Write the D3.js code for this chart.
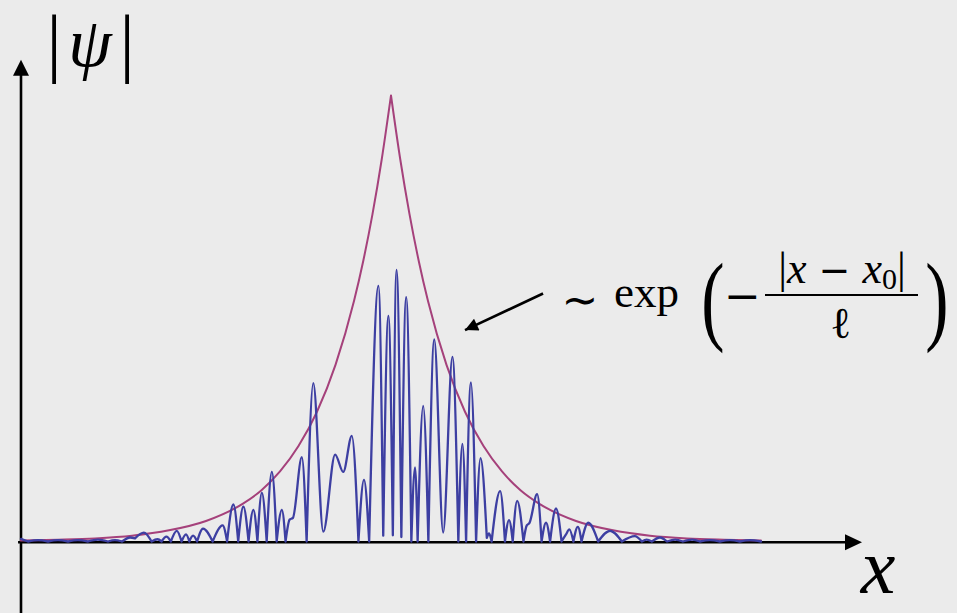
<!DOCTYPE html>
<html>
<head>
<meta charset="utf-8">
<script src="https://cdn.jsdelivr.net/npm/d3@7"></script>
<style>
  html, body { margin: 0; padding: 0; background: #ebebeb; }
  svg { display: block; }
</style>
</head>
<body>
<svg id="chart"></svg>
<script>
let psiX = [-10.00, -9.81, -9.54, -9.27, -9.00, -8.73, -8.46, -8.19, -7.92, -7.65,
  -7.46, -7.27, -7.05, -6.92, -6.68, -6.47, -6.31, -6.20, -6.07, -5.95,
  -5.79, -5.66, -5.54, -5.45, -5.35, -5.24, -5.08, -4.82, -4.55, -4.43,
  -4.26, -4.13, -3.99, -3.85, -3.72, -3.61, -3.49, -3.36, -3.22, -3.09,
  -2.95, -2.85, -2.74, -2.65, -2.41, -2.28, -2.10, -1.83, -1.51, -1.29,
  -1.06, -0.88, -0.73, -0.59, -0.34, -0.21, -0.07, 0.05, 0.15, 0.28,
  0.41, 0.55, 0.65, 0.72, 0.87, 1.01, 1.17, 1.41, 1.66, 1.82,
  1.93, 2.03, 2.16, 2.30, 2.42, 2.59, 2.65, 2.72, 2.95, 3.08,
  3.19, 3.29, 3.41, 3.58, 3.67, 3.74, 3.95, 4.07, 4.19, 4.30,
  4.46, 4.61, 4.73, 4.82, 4.93, 5.05, 5.15, 5.33, 5.60, 5.92,
  6.24, 6.59, 6.78, 6.91, 7.05, 7.27, 7.46, 7.68, 7.89, 8.14,
  8.35, 8.62, 8.89, 9.16, 9.43, 9.70, 10.00]
let psiY = [0.006, 0, 0.003, 0, 0.003, 0, 0.003, 0, 0.004, 0,
  0.003, 0, 0.009, 0.007, 0.020, 0, 0.005, 0, 0.011, 0,
  0.024, 0, 0.016, 0, 0.013, 0, 0.029, 0, 0.036, 0,
  0.083, 0, 0.078, 0, 0.071, 0, 0.109, 0, 0.156, 0,
  0.071, 0, 0.049, 0.053, 0.189, 0, 0.355, 0.022, 0.195, 0.156,
  0.237, 0, 0.138, 0, 0.573, 0.013, 0.506, 0.014, 0.609, 0.010,
  0.548, 0, 0.166, 0, 0.304, 0, 0.453, 0.020, 0.414, 0,
  0.219, 0, 0.357, 0, 0.187, 0.008, 0.018, 0, 0.113, 0,
  0.048, 0, 0.091, 0, 0.036, 0.041, 0.106, 0, 0.042, 0,
  0.074, 0, 0.016, 0.027, 0, 0.033, 0, 0.042, 0, 0.024,
  0, 0.012, 0, 0.004, 0, 0.009, 0, 0.004, 0, 0.004,
  0, 0.003, 0, 0.003, 0, 0.003, 0]

// envelope ~ exp(-|x - x0| / l)
let envX = [-10, -9, -8, -7, -6, -5, -4, -3.5, -3, -2.5, -2, -1.5, -1, -0.75, -0.5, -0.25, 0,
  0.25, 0.5, 0.75, 1, 1.5, 2, 2.5, 3, 3.5, 4, 5, 6, 7, 8, 9, 10]
let envY = [0.002, 0.004, 0.007, 0.013, 0.025, 0.046, 0.085, 0.115, 0.157, 0.214, 0.291, 0.396, 0.539, 0.629, 0.734, 0.857, 1.0,
  0.857, 0.734, 0.629, 0.539, 0.396, 0.291, 0.214, 0.157, 0.115, 0.085, 0.046, 0.025, 0.013, 0.007, 0.004, 0.002]

let width = 957
let height = 613

let svg = d3.select('#chart')
  .attr('width', width)
  .attr('height', height)
  .style('background', '#ebebeb')

let xScale = d3.scaleLinear().domain([-10, 12.73]).range([21, 862])
let yScale = d3.scaleLinear().domain([0, 1]).range([541.5, 95.5])

let line = d3.line()
  .x(d => xScale(d[0]))
  .y(d => yScale(d[1]))
  .curve(d3.curveMonotoneX)

// |psi| has kinks where psi crosses zero, so cut the curve at those minima
let splitAtZeros = (xs, ys) => {
  let pts = xs.map((x, i) => [x, ys[i]])
  let parts = []
  let cur = [pts[0]]
  for (let i = 1; i < pts.length; i++) {
    cur.push(pts[i])
    let last = i === pts.length - 1
    let isMin = !last && pts[i][1] <= pts[i - 1][1] && pts[i][1] <= pts[i + 1][1]
    if (isMin && pts[i][1] < 0.015) {
      parts.push(cur)
      cur = [pts[i]]
    }
  }
  if (cur.length > 1) parts.push(cur)
  return parts
}

// axes
let axisColor = '#000'
let xAxisEnd = 12.73
let yAxisEnd = 1.08

svg.append('line')
  .attr('x1', xScale(-10.08)).attr('x2', xScale(xAxisEnd) - 10)
  .attr('y1', yScale(0) + 0.8).attr('y2', yScale(0) + 0.8)
  .attr('stroke', axisColor).attr('stroke-width', 2.6)

svg.append('line')
  .attr('x1', xScale(-10)).attr('x2', xScale(-10))
  .attr('y1', height).attr('y2', yScale(yAxisEnd) + 10)
  .attr('stroke', axisColor).attr('stroke-width', 2.6)

let xt = [xScale(xAxisEnd), yScale(0) + 0.8]
svg.append('path')
  .attr('d', `M${xt[0]},${xt[1]}L${xt[0] - 17},${xt[1] - 8}L${xt[0] - 17},${xt[1] + 8}Z`)
  .attr('fill', axisColor)

let yt = [xScale(-10), yScale(yAxisEnd)]
svg.append('path')
  .attr('d', `M${yt[0]},${yt[1]}L${yt[0] - 8},${yt[1] + 16}L${yt[0] + 8},${yt[1] + 16}Z`)
  .attr('fill', axisColor)

// envelope, drawn as two halves so the top stays a sharp cusp
let peak = envY.indexOf(d3.max(envY))
let envPts = envX.map((x, i) => [x, envY[i]])
svg.append('path')
  .attr('d', line(envPts.slice(0, peak + 1)) + line(envPts.slice(peak)))
  .attr('fill', 'none')
  .attr('stroke', '#a5417b')
  .attr('stroke-width', 2)
  .attr('stroke-linecap', 'round')

// |psi|
svg.append('path')
  .attr('d', splitAtZeros(psiX, psiY).map(p => line(p)).join(''))
  .attr('fill', 'none')
  .attr('stroke', '#3d3fa2')
  .attr('stroke-width', 2.3)
  .attr('stroke-linejoin', 'round')
  .attr('stroke-linecap', 'round')

// labels
let serif = '"Liberation Serif", serif'
let sans = '"DejaVu Sans", sans-serif'

let psiLabel = svg.append('g').attr('font-family', serif)
psiLabel.append('text').attr('x', 54).attr('y', 68).attr('font-size', 76)
  .attr('text-anchor', 'middle').text('|')
psiLabel.append('text').attr('x', 90).attr('y', 66).attr('font-size', 70)
  .attr('font-style', 'italic').attr('text-anchor', 'middle').text('ψ')
psiLabel.append('text').attr('x', 127).attr('y', 68).attr('font-size', 76)
  .attr('text-anchor', 'middle').text('|')

svg.append('text')
  .attr('x', 878).attr('y', 593)
  .attr('font-family', serif).attr('font-size', 78)
  .attr('font-style', 'italic').attr('text-anchor', 'middle')
  .text('x')

// annotation: arrow pointing at the envelope
svg.append('defs').append('marker')
  .attr('id', 'head')
  .attr('viewBox', '0 0 10 10')
  .attr('refX', 10).attr('refY', 5)
  .attr('markerWidth', 18).attr('markerHeight', 13)
  .attr('markerUnits', 'userSpaceOnUse')
  .attr('orient', 'auto')
  .append('path').attr('d', 'M0,0L10,5L0,10Z').attr('fill', '#000')

svg.append('line')
  .attr('x1', xScale(4.11)).attr('y1', yScale(0.556))
  .attr('x2', xScale(2.0)).attr('y2', yScale(0.474))
  .attr('stroke', '#000').attr('stroke-width', 2.6)
  .attr('marker-end', 'url(#head)')

let f = svg.append('g').attr('font-family', serif).attr('fill', '#000')
f.append('text').attr('x', 580).attr('y', 315).attr('font-size', 44)
  .attr('font-family', sans).attr('text-anchor', 'middle').text('∼')
f.append('text').attr('x', 614).attr('y', 307).attr('font-size', 45).text('exp')
f.append('text').attr('transform', 'translate(713,332) scale(0.7,1)')
  .attr('font-size', 100).attr('text-anchor', 'middle').text('(')
f.append('text').attr('x', 742.5).attr('y', 311).attr('font-size', 44)
  .attr('font-family', sans).attr('text-anchor', 'middle').text('−')
f.append('line').attr('x1', 765).attr('x2', 918).attr('y1', 295).attr('y2', 295)
  .attr('stroke', '#000').attr('stroke-width', 2)

// numerator |x - x0|
let num = f.append('text').attr('x', 842).attr('y', 283).attr('font-size', 44)
  .attr('text-anchor', 'middle')
num.append('tspan').text('|')
num.append('tspan').attr('font-style', 'italic').text('x')
num.append('tspan').attr('font-family', sans).attr('font-size', 38).text(' − ')
num.append('tspan').attr('font-style', 'italic').text('x')
num.append('tspan').attr('font-size', 30).attr('dy', 6).text('0')
num.append('tspan').attr('dy', -6).text('|')

// denominator
f.append('text').attr('x', 840.5).attr('y', 338).attr('font-size', 44)
  .attr('text-anchor', 'middle').text('ℓ')
f.append('text').attr('transform', 'translate(937,332) scale(0.7,1)')
  .attr('font-size', 100).attr('text-anchor', 'middle').text(')')
</script>
</body>
</html>
